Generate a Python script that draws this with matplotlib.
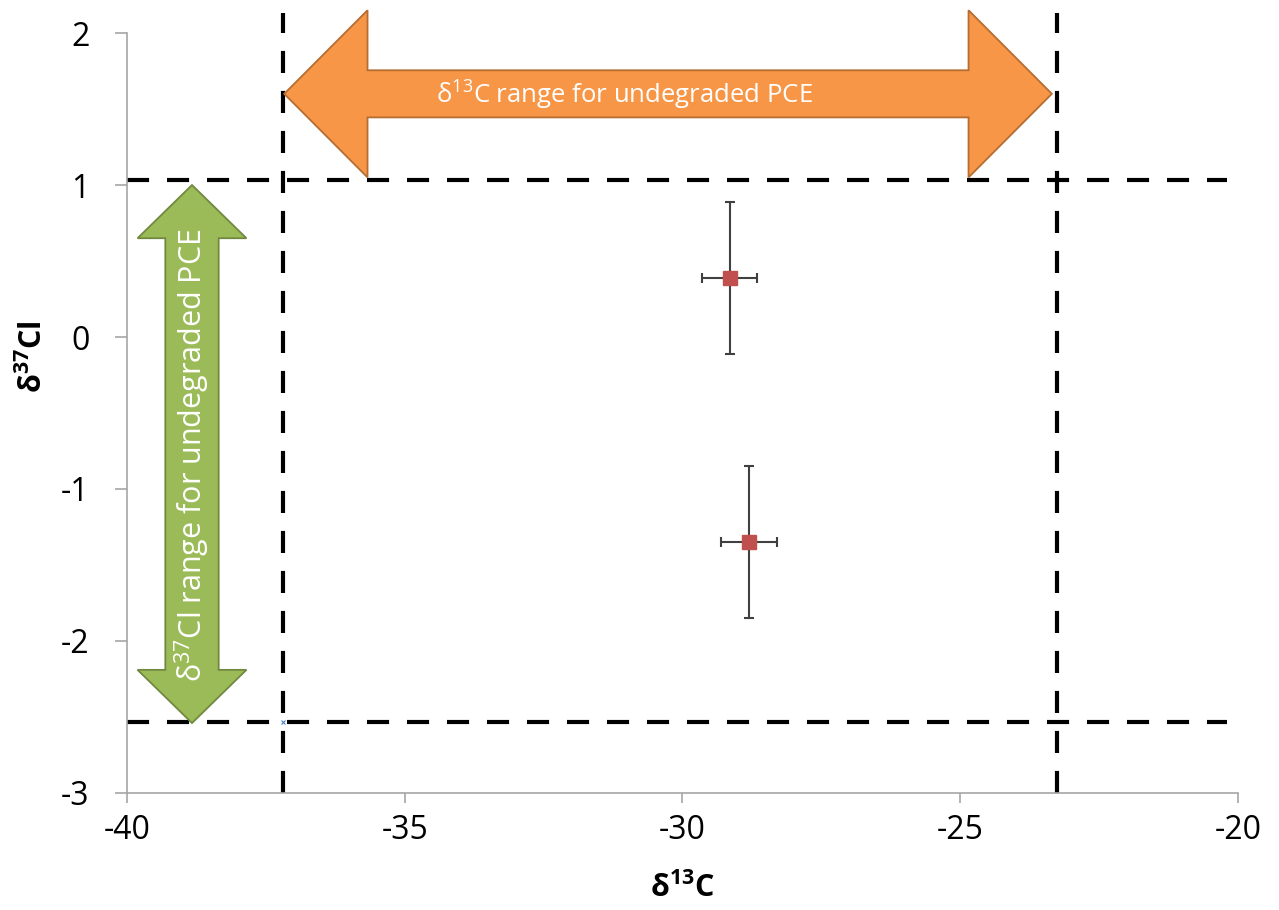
import matplotlib
matplotlib.use('Agg')
import matplotlib.pyplot as plt
from matplotlib.patches import Polygon

plt.rcParams['font.family'] = ['Open Sans', 'DejaVu Sans']
plt.rcParams['mathtext.fontset'] = 'custom'
plt.rcParams['mathtext.rm'] = 'Open Sans'
plt.rcParams['mathtext.bf'] = 'Open Sans:bold'
plt.rcParams['axes.unicode_minus'] = False

# samples: d13C, d37Cl with errors
d13c = [-29.15, -28.8]
d37cl = [0.39, -1.35]
d13c_err = [0.5, 0.5]
d37cl_err = [0.5, 0.5]

# ranges for undegraded PCE
c_range = [-37.2, -23.25]
cl_range = [-2.53, 1.03]

xticks = [-40, -35, -30, -25, -20]
yticks = [-3, -2, -1, 0, 1, 2]


def double_arrow(a0, a1, c, shaft, head, hlen, vertical=False):
    pts = [(a0, c), (a0 + hlen, c + head), (a0 + hlen, c + shaft),
           (a1 - hlen, c + shaft), (a1 - hlen, c + head), (a1, c),
           (a1 - hlen, c - head), (a1 - hlen, c - shaft),
           (a0 + hlen, c - shaft), (a0 + hlen, c - head)]
    if vertical:
        pts = [(q, p) for p, q in pts]
    return pts


fig = plt.figure(figsize=(12.79, 9.10), dpi=100)
ax = fig.add_axes([0.0993, 0.1286, 0.8686, 0.8351])

# dashed range lines
dash = dict(color='black', lw=3, dashes=(5.3, 4.3), zorder=2)
for xv in c_range:
    ax.plot([xv, xv], [-3, 2.13], clip_on=False, **dash)
for yv in cl_range:
    ax.plot([-40, -20.2], [yv, yv], clip_on=False, **dash)
ax.plot([c_range[0]], [cl_range[0]], 'x', color='#4F81BD', ms=3, mew=0.8, zorder=3)

# arrows
orange = Polygon(double_arrow(-37.17, -23.35, 1.60, 0.155, 0.55, 1.5),
                 closed=True, fc='#F79646', ec='#B66D31', lw=1.3, zorder=4, clip_on=False)
ax.add_patch(orange)
ax.text(-31.05, 1.60, r'δ$^{13}$C range for undegraded PCE', color='white',
        fontsize=18.5, ha='center', va='center', zorder=5)

green = Polygon(double_arrow(-2.54, 1.0, -38.83, 0.48, 0.98, 0.35, vertical=True),
                closed=True, fc='#9BBB59', ec='#71893F', lw=1.3, zorder=4)
ax.add_patch(green)
ax.text(-38.83, -0.78, r'δ$^{37}$Cl range for undegraded PCE', color='white',
        fontsize=22, ha='center', va='center', rotation=90, zorder=5)

# data points
ax.errorbar(d13c, d37cl, xerr=d13c_err, yerr=d37cl_err, fmt='s', color='#C0504D',
            ms=10, ecolor='#404040', elinewidth=1.5, capsize=3.5, capthick=1.5, zorder=6)

ax.set_xlim(-40, -20)
ax.set_ylim(-3, 2)
ax.set_xticks(xticks)
ax.set_yticks(yticks)
for s in ['top', 'right']:
    ax.spines[s].set_visible(False)
for s in ['left', 'bottom']:
    ax.spines[s].set_color('#A6A6A6')
    ax.spines[s].set_linewidth(1.2)
ax.tick_params(axis='both', colors='#A6A6A6', labelcolor='black', labelsize=23, width=1.2)
ax.tick_params(axis='x', length=7, pad=8)
ax.tick_params(axis='y', length=9, pad=18)

ax.set_xlabel(r'δ$^{\mathbf{13}}$C', fontsize=22, fontweight='bold')
ax.set_ylabel(r'δ$^{\mathbf{37}}$Cl', fontsize=22, fontweight='bold')
ax.xaxis.set_label_coords(0.5, -0.105)
ax.yaxis.set_label_coords(-0.07, 0.574)

fig.savefig('out.png', dpi=100)
